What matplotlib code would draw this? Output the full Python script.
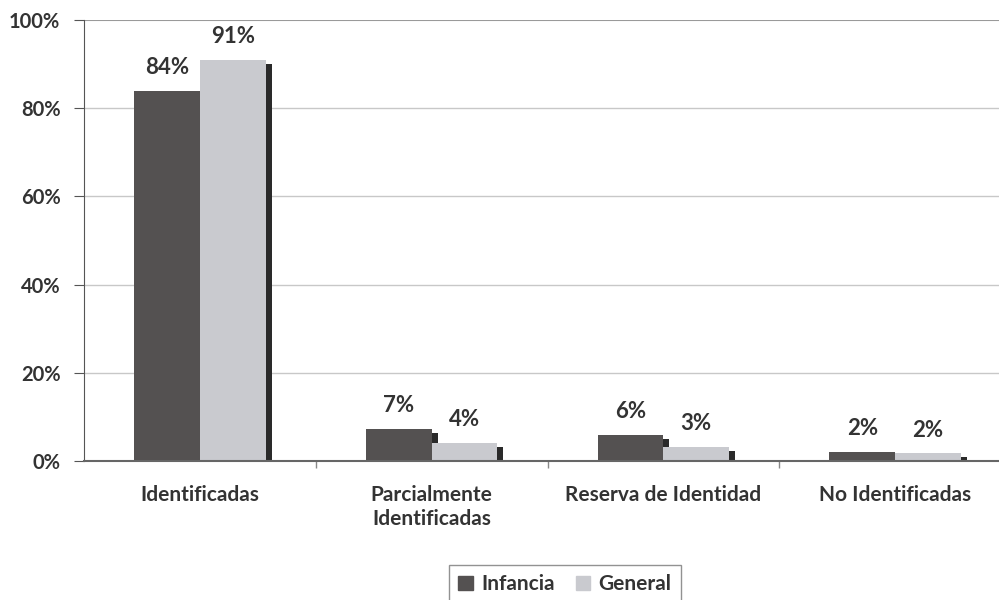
import numpy as np
import matplotlib.pyplot as plt
import matplotlib.transforms as mtransforms
from matplotlib.patches import Patch

categories = ['Identificadas', 'Parcialmente\nIdentificadas', 'Reserva de Identidad', 'No Identificadas']
infancia = [84, 7.3, 5.9, 2.1]
general = [91, 4.1, 3.2, 1.8]
series_names = ['Infancia', 'General']

plt.rcParams['font.family'] = ['Lato', 'DejaVu Sans']

c_inf = '#545151'
c_gen = '#c9cacf'
c_shadow = '#2a2a2a'
c_text = '#333333'

fig = plt.figure(figsize=(9.99, 6), dpi=100)
ax = fig.add_axes([84 / 999, 1 - 461 / 600, (1011 - 84) / 999, (461 - 20) / 600])

x = np.arange(len(categories))
w = 0.284
shadow = ax.transData + mtransforms.ScaledTranslation(0.06, -0.04, fig.dpi_scale_trans)

# dark offset copy of each bar gives the 3d-ish edge
for vals, off in [(infancia, -w / 2), (general, w / 2)]:
    ax.bar(x + off, vals, w, color=c_shadow, transform=shadow, zorder=1, linewidth=0)
ax.bar(x - w / 2, infancia, w, color=c_inf, zorder=2, linewidth=0)
ax.bar(x + w / 2, general, w, color=c_gen, zorder=2, linewidth=0)

for vals, off in [(infancia, -w / 2), (general, w / 2)]:
    for xi, v in zip(x, vals):
        ax.annotate(f'{round(v)}%', (xi + off, v), xytext=(0, 9), textcoords='offset points',
                    ha='center', va='bottom', fontsize=16, fontweight='bold', color=c_text)

ax.set_xlim(-0.5, len(categories) - 0.5)
ax.set_ylim(0, 100)
ax.set_yticks(np.arange(0, 101, 20))
ax.set_yticklabels([f'{t}%' for t in range(0, 101, 20)], fontweight='bold')
for t in [20, 40, 60, 80]:
    ax.axhline(t, color='#c8c8c8', lw=1, zorder=0)
ax.axhline(100, color='#9a9a9a', lw=1.5, zorder=0)

ax.set_xticks(x)
ax.set_xticklabels(categories, fontweight='bold', va='top', linespacing=1.3)
ax.set_xticks(np.arange(0.5, len(categories) - 0.5, 1), minor=True)
ax.tick_params(axis='x', which='major', length=0, pad=17, labelsize=15, labelcolor=c_text)
ax.tick_params(axis='x', which='minor', length=5, color='#888888', width=1)
ax.tick_params(axis='y', length=7, color='#555555', labelsize=14.5, labelcolor=c_text, pad=10)

for s in ['top', 'right']:
    ax.spines[s].set_visible(False)
ax.spines['left'].set_color('#555555')
ax.spines['bottom'].set_color('#666666')
ax.spines['bottom'].set_linewidth(1.5)

handles = [Patch(color=c_inf), Patch(color=c_gen)]
leg = fig.legend(handles, series_names, loc='upper center', bbox_to_anchor=(565 / 999, 1 - 565 / 600),
                 ncol=2, frameon=True, fancybox=False, edgecolor='#777777',
                 prop={'weight': 'bold', 'size': 15}, handlelength=0.7, handleheight=0.7,
                 handletextpad=0.4, columnspacing=1.0, borderpad=0.45, borderaxespad=0,
                 labelcolor=c_text)
leg.get_frame().set_linewidth(1)

fig.savefig('out.png', dpi=100)
